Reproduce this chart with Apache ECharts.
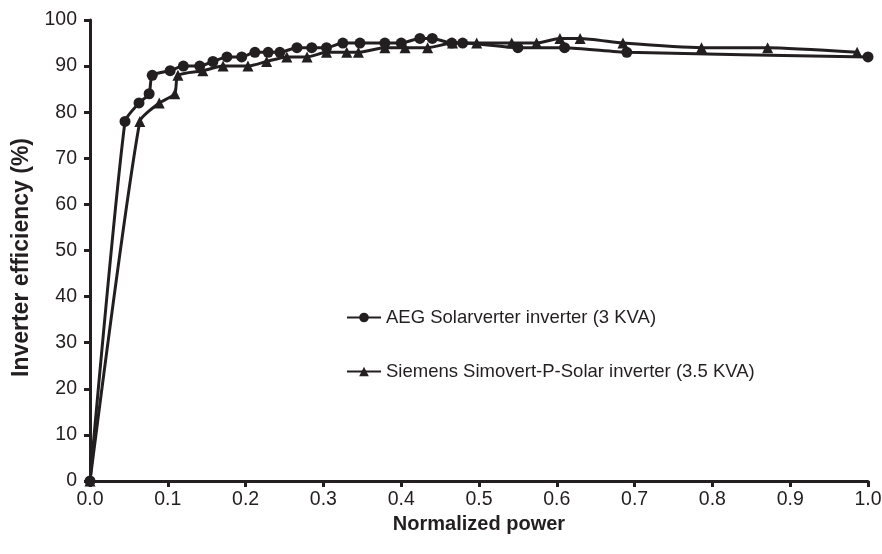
<!DOCTYPE html>
<html>
<head>
<meta charset="utf-8">
<script src="https://cdn.jsdelivr.net/npm/echarts@6/dist/echarts.min.js"></script>
<style>
  html, body { margin: 0; padding: 0; background: #fff; }
  #chart { width: 882px; height: 554px; }
</style>
</head>
<body>
<div id="chart"></div>
<script>
// AEG Solarverter inverter (3 KVA)
const aegPower = [0, 0.045, 0.063, 0.076, 0.080, 0.103, 0.12, 0.141, 0.158, 0.176, 0.195, 0.212, 0.229, 0.244,
  0.266, 0.285, 0.304, 0.325, 0.347, 0.379, 0.40, 0.424, 0.44, 0.465, 0.479, 0.55, 0.61, 0.69, 1.0];
const aegEff = [0, 78, 82, 84, 88, 89, 90, 90, 91, 92, 92, 93, 93, 93,
  94, 94, 94, 95, 95, 95, 95, 96, 96, 95, 95, 94, 94, 93, 92];

// Siemens Simovert-P-Solar inverter (3.5 KVA)
const siemensPower = [0, 0.064, 0.089, 0.109, 0.113, 0.145, 0.171, 0.203, 0.227, 0.253, 0.279, 0.304, 0.33, 0.345,
  0.379, 0.405, 0.434, 0.466, 0.497, 0.542, 0.574, 0.604, 0.630, 0.685, 0.786, 0.871, 0.986];
const siemensEff = [0, 78, 82, 84, 88, 89, 90, 90, 91, 92, 92, 93, 93, 93,
  94, 94, 94, 95, 95, 95, 95, 96, 96, 95, 94, 94, 93];

const seriesNames = ['AEG Solarverter inverter (3 KVA)', 'Siemens Simovert-P-Solar inverter (3.5 KVA)'];

const ink = '#231f20';
const font = '"Liberation Sans", Arial, sans-serif';

function pairs(xs, ys) {
  return xs.map((x, i) => [x, ys[i]]);
}

const chart = echarts.init(document.getElementById('chart'));

const axisCommon = {
  axisLine: { show: true, lineStyle: { color: ink, width: 3 } },
  axisTick: { show: true, inside: false, length: 6, lineStyle: { color: ink, width: 3 } },
  splitLine: { show: false },
  nameLocation: 'middle'
};

chart.setOption({
  animation: false,
  backgroundColor: '#fff',
  grid: { left: 90, right: 14, top: 20, bottom: 73, containLabel: false, outerBoundsMode: 'none' },
  legend: {
    orient: 'vertical',
    left: 341,
    top: 303,
    itemGap: 35,
    itemWidth: 34,
    itemHeight: 12,
    textStyle: { color: ink, fontFamily: font, fontSize: 18.5 },
    data: seriesNames
  },
  xAxis: Object.assign({}, axisCommon, {
    type: 'value',
    min: 0,
    max: 1,
    interval: 0.1,
    name: 'Normalized power',
    nameGap: 33,
    nameTextStyle: { color: ink, fontFamily: font, fontSize: 20, fontWeight: 'bold' },
    axisLabel: { color: ink, fontFamily: font, fontSize: 19.5, margin: 9, formatter: v => v.toFixed(1) }
  }),
  yAxis: Object.assign({}, axisCommon, {
    type: 'value',
    min: 0,
    max: 100,
    interval: 10,
    name: 'Inverter efficiency (%)',
    nameGap: 56,
    nameTextStyle: { color: ink, fontFamily: font, fontSize: 23, fontWeight: 'bold', padding: [0, 14, 0, 0] },
    axisLabel: { color: ink, fontFamily: font, fontSize: 19.5, margin: 13 }
  }),
  series: [
    {
      name: seriesNames[0],
      type: 'line',
      data: pairs(aegPower, aegEff),
      symbol: 'circle',
      symbolSize: 11,
      smooth: 0.2,
      lineStyle: { color: ink, width: 3 },
      itemStyle: { color: ink }
    },
    {
      name: seriesNames[1],
      type: 'line',
      data: pairs(siemensPower, siemensEff),
      symbol: 'triangle',
      symbolSize: 11,
      smooth: 0.2,
      lineStyle: { color: ink, width: 3 },
      itemStyle: { color: ink }
    }
  ]
});
</script>
</body>
</html>
